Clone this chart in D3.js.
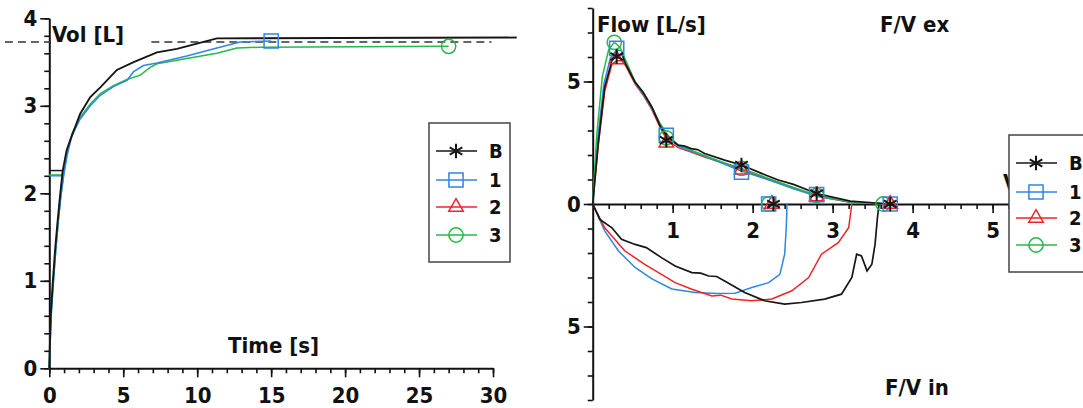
<!DOCTYPE html>
<html>
<head>
<meta charset="utf-8">
<script src="https://cdn.jsdelivr.net/npm/d3@7"></script>
<style>
  body { margin: 0; background: #fff; }
  svg text { font-family: "DejaVu Sans Condensed", "DejaVu Sans", sans-serif; font-weight: bold; fill: #111; }
</style>
</head>
<body>
<div id="graf"></div>
<script>
// datos: volumen-tiempo (t [s], vol [L])
const volTimeB = [[0,0],[0.09,0.59],[0.23,0.97],[0.39,1.35],[0.55,1.66],[0.72,1.96],[0.9,2.25],[1.17,2.49],[1.42,2.61],[2.09,2.91],[2.77,3.10],[3.45,3.21],[4.57,3.41],[5.7,3.50],[7.28,3.61],[8.63,3.65],[9.98,3.71],[11.33,3.77],[31.6,3.78]]
const volTime1 = [[0,0],[0.12,0.59],[0.27,0.97],[0.44,1.35],[0.6,1.66],[0.78,1.96],[0.97,2.20],[1.2,2.43],[1.53,2.66],[2.09,2.85],[2.77,3.0],[3.45,3.12],[4.34,3.22],[5.25,3.29],[5.7,3.39],[6.37,3.46],[7.28,3.49],[9.3,3.57],[11.33,3.66],[12.9,3.73],[15,3.74]]
const volTime3 = [[0,0],[0.12,0.6],[0.27,0.98],[0.44,1.36],[0.6,1.67],[0.78,1.97],[0.97,2.22],[1.2,2.45],[1.53,2.68],[2.09,2.87],[2.77,3.02],[3.45,3.14],[4.34,3.23],[5.25,3.30],[6.15,3.35],[6.82,3.44],[7.28,3.48],[9.3,3.54],[11.33,3.60],[12.68,3.66],[14.26,3.67],[27,3.68]]
// nivel de arranque (extrapolacion) por serie: [vol, t fin, serie]
const startLevels = [[2.26, 0.95, "B"], [2.20, 0.95, "1"], [2.21, 0.95, "3"]]
const refVol = 3.73
const refSegments = [[-3, 0.1], [6.9, 29.9]]
const volMarks = [[15, 3.74, "1"], [27, 3.68, "3"]]
const timeTicks = [0, 5, 10, 15, 20, 25, 30]
const volTicks = [0, 1, 2, 3, 4]

// datos: flujo-volumen (vol [L], flujo [L/s]); inspiracion negativa
const expB = [[0,0],[0.07,2.5],[0.15,4.77],[0.24,5.85],[0.3,6.05],[0.37,6.1],[0.40,5.78],[0.53,4.97],[0.63,4.56],[0.74,3.96],[0.84,3.21],[0.93,2.74],[1.07,2.40],[1.15,2.36],[1.23,2.26],[1.31,2.22],[1.40,2.06],[1.65,1.79],[1.86,1.59],[2.11,1.25],[2.32,0.98],[2.51,0.80],[2.80,0.43],[3.22,0.12],[3.59,0.03],[3.72,0]]
const exp1 = [[0,0],[0.06,2.6],[0.14,4.9],[0.22,5.95],[0.3,6.3],[0.36,6.25],[0.42,5.75],[0.53,4.95],[0.63,4.5],[0.74,3.9],[0.84,3.25],[0.93,2.8],[1.07,2.35],[1.23,2.15],[1.40,1.95],[1.65,1.62],[1.86,1.35],[2.11,1.08],[2.32,0.85],[2.51,0.62],[2.80,0.33],[3.22,0.08],[3.72,0]]
const exp2 = [[0,0],[0.07,2.4],[0.15,4.6],[0.24,5.7],[0.3,5.85],[0.37,5.85],[0.42,5.6],[0.53,4.9],[0.63,4.45],[0.74,3.85],[0.84,3.15],[0.93,2.6],[1.07,2.3],[1.23,2.12],[1.40,1.92],[1.65,1.65],[1.86,1.42],[2.11,1.12],[2.32,0.88],[2.51,0.66],[2.80,0.32],[3.22,0.07],[3.72,0]]
const exp3 = [[0,0],[0.05,2.8],[0.12,5.2],[0.2,6.3],[0.27,6.6],[0.34,6.4],[0.42,5.8],[0.53,5.0],[0.63,4.55],[0.74,3.95],[0.84,3.3],[0.93,2.85],[1.07,2.4],[1.23,2.2],[1.40,1.98],[1.65,1.68],[1.86,1.45],[2.11,1.15],[2.32,0.9],[2.51,0.68],[2.80,0.36],[3.22,0.08],[3.63,0]]
const inspB = [[0,0],[0.09,-0.63],[0.24,-0.97],[0.36,-1.44],[0.53,-1.65],[0.67,-1.78],[0.86,-2.19],[1.03,-2.53],[1.24,-2.80],[1.35,-2.82],[1.45,-2.94],[1.55,-2.96],[1.65,-3.14],[1.90,-3.61],[2.15,-3.95],[2.40,-4.09],[2.61,-4.02],[2.90,-3.88],[3.11,-3.68],[3.24,-3.00],[3.30,-2.05],[3.36,-2.12],[3.43,-2.73],[3.49,-2.46],[3.53,-1.65],[3.56,-0.56],[3.58,0]]
const insp1 = [[0,0],[0.15,-1.10],[0.32,-1.91],[0.53,-2.59],[0.74,-3.06],[0.99,-3.47],[1.28,-3.61],[1.57,-3.65],[1.78,-3.64],[1.99,-3.41],[2.20,-3.21],[2.34,-2.87],[2.40,-2.05],[2.42,-0.97],[2.43,0]]
const insp2 = [[0,0],[0.15,-0.97],[0.40,-1.91],[0.65,-2.46],[0.86,-2.87],[1.03,-3.21],[1.24,-3.48],[1.49,-3.75],[1.6,-3.72],[1.74,-3.88],[1.99,-3.95],[2.24,-3.88],[2.49,-3.54],[2.70,-3.00],[2.86,-2.05],[3.07,-1.58],[3.20,-0.97],[3.24,0]]
const fvMarksB = [[0.3,6.02],[0.92,2.6],[1.86,1.59],[2.8,0.43],[3.72,0],[2.26,0]]
const fvMarks1 = [[0.3,6.35],[0.92,2.8],[1.86,1.3],[2.8,0.38],[3.72,0],[2.2,0]]
const fvMarks2 = [[0.3,5.9],[0.92,2.5],[1.86,1.4],[2.8,0.3],[3.72,0],[2.24,0]]
const fvMarks3 = [[0.27,6.6],[0.92,2.7],[1.86,1.45],[2.8,0.35],[3.63,0],[2.2,0]]
const volFvTicks = [1, 2, 3, 4, 5]
const flowTicks = [-5, 0, 5]

const seriesNames = ["B", "1", "2", "3"]
const colores = { B: "#161616", "1": "#2f86e6", "2": "#f02424", "3": "#27b847" }
const simbolos = { B: d3.symbolAsterisk, "1": d3.symbolSquare, "2": d3.symbolTriangle2, "3": d3.symbolCircle }
const tamanos = { B: 150, "1": 200, "2": 150, "3": 160 }

const svg = d3.select("#graf").append("svg").attr("width", 1083).attr("height", 408)

const marker = (g, pts, name, x, y) => {
  g.selectAll(null).data(pts).enter().append("path")
    .attr("d", d3.symbol(simbolos[name], tamanos[name]))
    .attr("transform", (d) => `translate(${x(d[0])},${y(d[1])})`)
    .attr("fill", "none").attr("stroke", colores[name]).attr("stroke-width", name === "B" ? 2 : 1.5)
}

const styleAxis = (sel) => {
  sel.selectAll("path.domain").attr("stroke", "#111").attr("stroke-width", 2)
  sel.selectAll("line").attr("stroke", "#111").attr("stroke-width", 1.6)
  sel.selectAll("text").style("font-size", "22px").attr("fill", "#111")
}
const fmt = d3.format("d")

// ---- panel izquierdo: volumen-tiempo
const xT = d3.scaleLinear().domain([0, 30]).range([49.3, 493])
const yV = d3.scaleLinear().domain([0, 4]).range([368.3, 18.3])
const gL = svg.append("g")

gL.append("g").attr("transform", `translate(0,${yV(0)})`)
  .call(d3.axisBottom(xT).tickValues(d3.range(0, 31, 1)).tickSize(5).tickFormat(""))
  .call((a) => a.select(".domain").remove()).call(styleAxis)
gL.append("g").attr("transform", `translate(0,${yV(0)})`)
  .call(d3.axisBottom(xT).tickValues(timeTicks).tickSize(9).tickSizeOuter(0).tickPadding(10).tickFormat(fmt))
  .call(styleAxis)
gL.append("g").attr("transform", `translate(${xT(0)},0)`)
  .call(d3.axisLeft(yV).tickValues(d3.range(0, 4.01, 0.2)).tickSize(5).tickFormat(""))
  .call((a) => a.select(".domain").remove()).call(styleAxis)
gL.append("g").attr("transform", `translate(${xT(0)},0)`)
  .call(d3.axisLeft(yV).tickValues(volTicks).tickSize(9).tickSizeOuter(0).tickPadding(3).tickFormat(fmt))
  .call(styleAxis)

refSegments.forEach((s) => {
  gL.append("line").attr("x1", xT(s[0])).attr("x2", xT(s[1]))
    .attr("y1", yV(refVol)).attr("y2", yV(refVol))
    .attr("stroke", "#333").attr("stroke-width", 1.6).attr("stroke-dasharray", "8,5")
})

const lineL = d3.line().x((d) => xT(d[0])).y((d) => yV(d[1]))
startLevels.forEach((s) => {
  gL.append("path").attr("d", lineL([[0, s[0]], [s[1], s[0]]]))
    .attr("fill", "none").attr("stroke", colores[s[2]]).attr("stroke-width", 1.5)
})
;[[volTime3, "3"], [volTime1, "1"], [volTimeB, "B"]].forEach(([d, n]) => {
  gL.append("path").attr("d", lineL(d)).attr("fill", "none")
    .attr("stroke", colores[n]).attr("stroke-width", n === "B" ? 1.9 : 1.5)
})
volMarks.forEach((m) => marker(gL, [m], m[2], xT, yV))

gL.append("text").attr("x", 52).attr("y", 42).style("font-size", "22px").text("Vol [L]")
gL.append("text").attr("x", 228).attr("y", 353).style("font-size", "22px").text("Time [s]")

// ---- panel derecho: flujo-volumen
const xF = d3.scaleLinear().domain([0, 6.13]).range([592.7, 1083])
const yF = d3.scaleLinear().domain([-8, 8]).range([400, 8])
const gR = svg.append("g")

gR.append("g").attr("transform", `translate(0,${yF(0)})`)
  .call(d3.axisBottom(xF).tickValues(d3.range(0.2, 6.1, 0.2)).tickSize(5).tickFormat(""))
  .call((a) => a.select(".domain").remove()).call(styleAxis)
gR.append("g").attr("transform", `translate(0,${yF(0)})`)
  .call(d3.axisBottom(xF).tickValues(volFvTicks).tickSize(9).tickSizeOuter(0).tickPadding(9).tickFormat(fmt))
  .call(styleAxis)
gR.append("g").attr("transform", `translate(${xF(0)},0)`)
  .call(d3.axisLeft(yF).tickValues(d3.range(-8, 8.1, 1)).tickSize(5).tickFormat(""))
  .call((a) => a.select(".domain").remove()).call(styleAxis)
gR.append("g").attr("transform", `translate(${xF(0)},0)`)
  .call(d3.axisLeft(yF).tickValues(flowTicks).tickSize(9).tickSizeOuter(0).tickPadding(3).tickFormat((d) => fmt(Math.abs(d))))
  .call(styleAxis)

const lineR = d3.line().x((d) => xF(d[0])).y((d) => yF(d[1]))
;[[insp1, "1"], [insp2, "2"], [inspB, "B"], [exp2, "2"], [exp1, "1"], [exp3, "3"], [expB, "B"]].forEach(([d, n]) => {
  gR.append("path").attr("d", lineR(d)).attr("fill", "none")
    .attr("stroke", colores[n]).attr("stroke-width", n === "B" ? 1.7 : 1.5)
})
marker(gR, fvMarks3, "3", xF, yF)
marker(gR, fvMarks2, "2", xF, yF)
marker(gR, fvMarks1, "1", xF, yF)
marker(gR, fvMarksB, "B", xF, yF)

gR.append("text").attr("x", 597).attr("y", 32).style("font-size", "22px").text("Flow [L/s]")
gR.append("text").attr("x", 880).attr("y", 32).style("font-size", "22px").text("F/V ex")
gR.append("text").attr("x", 885).attr("y", 395).style("font-size", "22px").text("F/V in")

// etiqueta del eje de volumen, tapada por la leyenda
svg.append("clipPath").attr("id", "clipVol").append("rect")
  .attr("x", 990).attr("y", 160).attr("width", 19).attr("height", 40)
gR.append("text").attr("x", 1003).attr("y", 190).attr("clip-path", "url(#clipVol)")
  .style("font-size", "22px").text("V")

// ---- leyendas
const legend = (x0, y0, w, h, ys) => {
  const g = svg.append("g")
  g.append("rect").attr("x", x0).attr("y", y0).attr("width", w).attr("height", h)
    .attr("fill", "#fff").attr("stroke", "#444").attr("stroke-width", 1.5)
  seriesNames.forEach((n, i) => {
    const y = ys[i]
    g.append("line").attr("x1", x0 + 7).attr("x2", x0 + 48).attr("y1", y).attr("y2", y)
      .attr("stroke", colores[n]).attr("stroke-width", 1.5)
    g.append("path").attr("d", d3.symbol(simbolos[n], tamanos[n]))
      .attr("transform", `translate(${x0 + 27},${y})`)
      .attr("fill", "none").attr("stroke", colores[n]).attr("stroke-width", n === "B" ? 2 : 1.5)
    g.append("text").attr("x", x0 + 60).attr("y", y).attr("dy", "0.36em")
      .style("font-size", "20px").text(n)
  })
}
legend(429, 123, 81, 139, [151, 180, 207, 235])
legend(1009, 135, 90, 137, [163, 192, 218, 245])
</script>
</body>
</html>
